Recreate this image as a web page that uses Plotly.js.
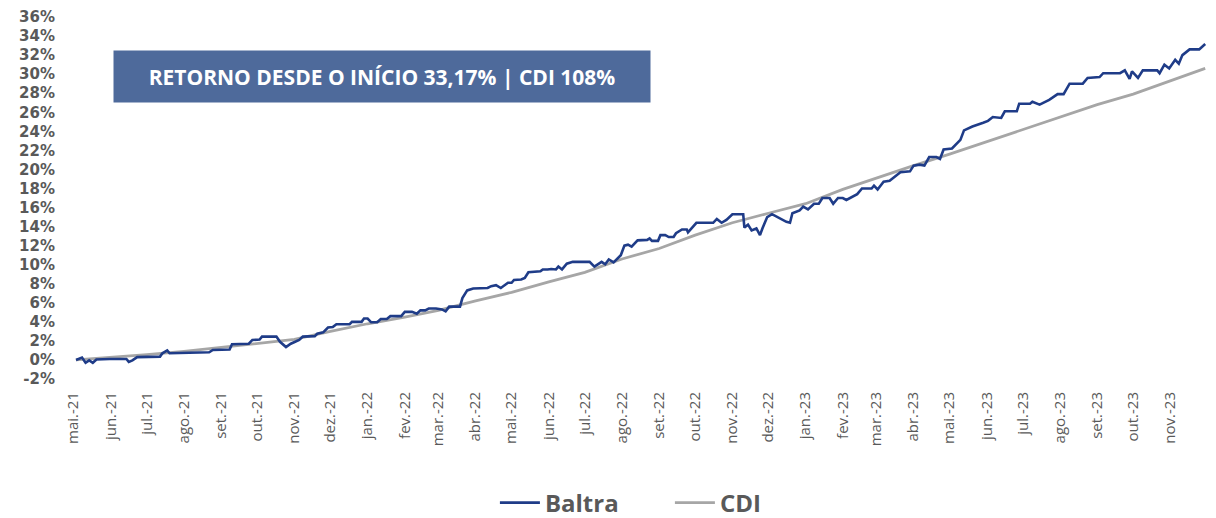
<!DOCTYPE html>
<html>
<head>
<meta charset="utf-8">
<script src="https://cdn.plot.ly/plotly-3.0.1.min.js"></script>
<style>html,body{margin:0;padding:0;background:#fff;}#chart{width:1216px;height:518px;}</style>
</head>
<body>
<div id="chart"></div>
<script>
// Baltra cumulative return (%)
const baltraDates = [
"2021-05-03","2021-05-08","2021-05-11","2021-05-14","2021-05-17","2021-05-20","2021-05-31","2021-06-14","2021-06-16","2021-06-19",
"2021-06-23","2021-07-12","2021-07-14","2021-07-18","2021-07-20","2021-08-06","2021-08-22","2021-08-25","2021-09-08","2021-09-10",
"2021-09-24","2021-09-27","2021-10-03","2021-10-05","2021-10-17","2021-10-20","2021-10-25","2021-10-29","2021-11-05","2021-11-08",
"2021-11-18","2021-11-20","2021-11-25","2021-11-29","2021-12-03","2021-12-06","2021-12-17","2021-12-19","2021-12-27","2021-12-29",
"2022-01-01","2022-01-04","2022-01-09","2022-01-12","2022-01-17","2022-01-20","2022-01-29","2022-02-01","2022-02-07","2022-02-11",
"2022-02-14","2022-02-18","2022-02-21","2022-02-27","2022-03-04","2022-03-07","2022-03-10","2022-03-19","2022-03-21","2022-03-25",
"2022-03-30","2022-04-11","2022-04-14","2022-04-18","2022-04-22","2022-04-28","2022-05-01","2022-05-03","2022-05-09","2022-05-12",
"2022-05-15","2022-05-25","2022-05-27","2022-05-31","2022-06-03","2022-06-07","2022-06-09","2022-06-12","2022-06-16","2022-06-21",
"2022-07-05","2022-07-09","2022-07-15","2022-07-18","2022-07-21","2022-07-25","2022-07-31","2022-08-03","2022-08-06","2022-08-09",
"2022-08-14","2022-08-22","2022-08-24","2022-08-26","2022-08-31","2022-09-02","2022-09-06","2022-09-09","2022-09-13","2022-09-15",
"2022-09-20","2022-09-24","2022-09-25","2022-10-02","2022-10-16","2022-10-19","2022-10-23","2022-10-27","2022-11-01","2022-11-10",
"2022-11-11","2022-11-14","2022-11-17","2022-11-21","2022-11-24","2022-11-26","2022-11-30","2022-12-04","2022-12-07","2022-12-12",
"2022-12-16","2022-12-19","2022-12-21","2022-12-27","2022-12-30","2023-01-03","2023-01-08","2023-01-12","2023-01-15","2023-01-21",
"2023-01-24","2023-01-28","2023-02-01","2023-02-04","2023-02-09","2023-02-13","2023-02-17","2023-02-25","2023-02-27","2023-03-02",
"2023-03-07","2023-03-12","2023-03-16","2023-03-21","2023-03-29","2023-04-01","2023-04-06","2023-04-10","2023-04-14","2023-04-20",
"2023-04-23","2023-04-26","2023-05-03","2023-05-06","2023-05-10","2023-05-13","2023-05-20","2023-05-29","2023-06-02","2023-06-06",
"2023-06-13","2023-06-16","2023-06-26","2023-06-28","2023-07-07","2023-07-09","2023-07-15","2023-07-23","2023-07-30","2023-08-04",
"2023-08-09","2023-08-20","2023-08-24","2023-09-03","2023-09-06","2023-09-20","2023-09-24","2023-09-28","2023-09-30","2023-10-05",
"2023-10-09","2023-10-21","2023-10-23","2023-10-27","2023-10-31","2023-11-05","2023-11-08","2023-11-11","2023-11-17","2023-11-25",
"2023-11-28","2023-11-30"
];
const baltraValues = [
0.00,0.25,-0.30,-0.05,-0.30,0.05,0.10,0.10,-0.20,-0.05,
0.30,0.35,0.70,1.00,0.70,0.75,0.80,1.05,1.10,1.65,
1.70,2.10,2.15,2.45,2.45,1.90,1.35,1.70,2.10,2.45,
2.50,2.75,2.90,3.40,3.45,3.75,3.75,4.00,4.00,4.35,
4.35,3.95,3.95,4.30,4.30,4.60,4.60,5.05,5.05,4.85,
5.20,5.20,5.40,5.40,5.30,5.10,5.60,5.60,6.50,7.30,
7.50,7.55,7.75,7.85,7.55,8.10,8.10,8.40,8.45,8.60,
9.20,9.30,9.50,9.50,9.55,9.50,9.80,9.50,10.10,10.30,
10.30,9.80,10.30,10.05,10.55,10.25,11.00,12.00,12.10,11.90,
12.55,12.60,12.75,12.50,12.50,13.10,13.10,12.90,12.90,13.30,
13.70,13.70,13.40,14.40,14.40,14.80,14.40,14.70,15.30,15.30,
13.90,14.20,13.60,13.80,13.10,13.80,15.00,15.30,15.10,14.70,
14.50,14.40,15.40,15.70,16.10,15.80,16.40,16.40,17.00,17.00,
16.40,17.00,17.00,16.80,17.10,17.40,18.00,18.00,18.30,17.90,
18.70,18.80,19.20,19.70,19.80,20.40,20.50,20.40,21.30,21.30,
21.10,22.10,22.20,22.60,23.10,24.10,24.50,24.90,25.10,25.50,
25.40,26.10,26.10,26.90,26.90,27.10,26.80,27.30,27.90,27.90,
29.00,29.00,29.60,29.70,30.10,30.10,30.40,29.50,30.30,29.60,
30.40,30.40,30.10,31.00,30.60,31.50,31.10,32.00,32.60,32.60,
32.90,33.17
];
// CDI cumulative return (%)
const cdiDates = [
"2021-05-03","2021-06-01","2021-07-01","2021-08-01","2021-09-01","2021-10-01","2021-11-01","2021-12-01",
"2022-01-01","2022-02-01","2022-03-01","2022-04-01","2022-05-01","2022-06-01","2022-07-01","2022-08-01",
"2022-09-01","2022-10-01","2022-11-01","2022-12-01","2023-01-01","2023-02-01","2023-03-01","2023-04-01",
"2023-05-01","2023-06-01","2023-07-01","2023-08-01","2023-09-01","2023-10-01","2023-11-01","2023-11-30"
];
const cdiValues = [
0.00,0.25,0.55,0.90,1.30,1.75,2.15,3.00,
3.80,4.50,5.20,6.20,7.10,8.20,9.20,10.60,
11.70,13.10,14.40,15.40,16.40,17.90,19.10,20.40,
21.60,22.90,24.20,25.50,26.80,27.90,29.30,30.60
];
// Month tick labels
const tickDates = [
"2021-05-01","2021-06-01","2021-07-01","2021-08-01","2021-09-01","2021-10-01","2021-11-01","2021-12-01",
"2022-01-01","2022-02-01","2022-03-01","2022-04-01","2022-05-01","2022-06-01","2022-07-01","2022-08-01",
"2022-09-01","2022-10-01","2022-11-01","2022-12-01","2023-01-01","2023-02-01","2023-03-01","2023-04-01",
"2023-05-01","2023-06-01","2023-07-01","2023-08-01","2023-09-01","2023-10-01","2023-11-01"
];
const tickLabels = [
"mai.-21","jun.-21","jul.-21","ago.-21","set.-21","out.-21","nov.-21","dez.-21",
"jan.-22","fev.-22","mar.-22","abr.-22","mai.-22","jun.-22","jul.-22","ago.-22",
"set.-22","out.-22","nov.-22","dez.-22","jan.-23","fev.-23","mar.-23","abr.-23",
"mai.-23","jun.-23","jul.-23","ago.-23","set.-23","out.-23","nov.-23"
];
const yTickVals = [-2,0,2,4,6,8,10,12,14,16,18,20,22,24,26,28,30,32,34,36];
const yTickText = yTickVals.map(v => v + "%");
const boxText = "RETORNO DESDE O INÍCIO 33,17% | CDI 108%";

const data = [
  {x: cdiDates, y: cdiValues, name: "CDI", type: "scatter", mode: "lines",
   line: {color: "#A6A6A6", width: 2.8}},
  {x: baltraDates, y: baltraValues, name: "Baltra", type: "scatter", mode: "lines",
   line: {color: "#1F3C88", width: 2.6}}
];

const layout = {
  width: 1216, height: 518,
  margin: {l: 70, r: 6, t: 17, b: 139},
  paper_bgcolor: "#ffffff", plot_bgcolor: "#ffffff",
  showlegend: true,
  legend: {orientation: "h", x: 0.407, xanchor: "left", xref: "container",
    y: 0.029, yanchor: "middle", yref: "container",
    traceorder: "reversed", entrywidth: 120, entrywidthmode: "pixels",
    font: {family: "Open Sans, sans-serif", size: 24, color: "#595959", weight: "bold"},
    itemwidth: 40},
  xaxis: {type: "date", range: ["2021-04-28", "2023-12-04"],
    tickmode: "array", tickvals: tickDates, ticktext: tickLabels, tickangle: -90,
    tickfont: {family: "Open Sans, sans-serif", size: 15, color: "#595959"},
    showgrid: false, zeroline: false, showline: false, ticks: "", ticklabelstandoff: 9},
  yaxis: {range: [-2, 36], tickmode: "array", tickvals: yTickVals, ticktext: yTickText,
    tickfont: {family: "DejaVu Sans, sans-serif", size: 15, color: "#595959", weight: "bold"},
    showgrid: false, zeroline: false, showline: false, ticks: "", ticklabelstandoff: 14},
  annotations: [{xref: "paper", yref: "paper", x: 0.2737, y: 0.8356, xanchor: "center", yanchor: "middle",
    text: boxText, showarrow: false, bgcolor: "#4E6A9B", width: 536, height: 51, borderpad: 0,
    font: {family: "Open Sans, sans-serif", size: 21, color: "#ffffff", weight: "bold"}}]
};
Plotly.newPlot("chart", data, layout, {displayModeBar: false, staticPlot: true});
</script>
</body>
</html>
